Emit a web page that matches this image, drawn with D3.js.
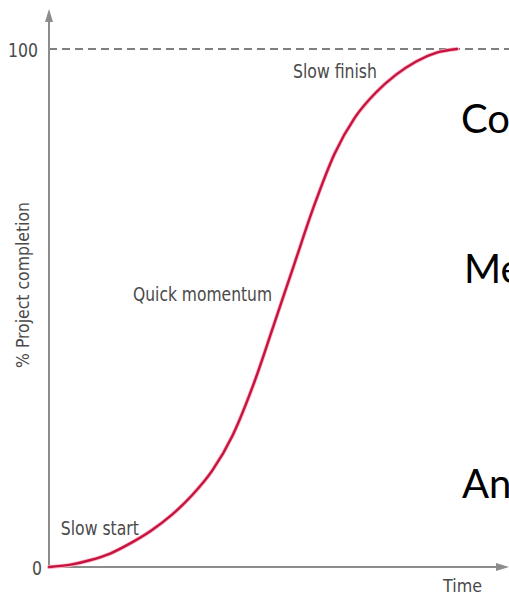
<!DOCTYPE html>
<html>
<head>
<meta charset="utf-8">
<script src="https://cdn.jsdelivr.net/npm/d3@7"></script>
<style>
  html, body { margin: 0; padding: 0; background: #fff; overflow: hidden; }
  svg { display: block; }
</style>
</head>
<body>
<svg id="chart" width="509" height="596"></svg>
<script>
// ---- data ----
const timeValues = [0, 5, 10, 15, 20, 25, 30, 35, 40, 45, 50, 55, 60, 65, 70, 75, 80, 85, 90, 95, 100];
const completionValues = [0, 0.4, 1.3, 2.6, 4.6, 7.0, 10.0, 13.8, 18.6, 25.4, 35.0, 46.5, 58.2, 69.8, 79.8, 86.8, 91.5, 95.0, 97.6, 99.3, 100];
const yTickValues = [0, 100];
const yTickLabels = ["0", "100"];
const phaseLabels = ["Slow start", "Quick momentum", "Slow finish"];
const phaseAt = [[2.9, 6.2], [20.6, 51.4], [59.8, 94.4]]; // [time, completion] anchor for each phase label
const xAxisLabel = "Time";
const yAxisLabel = "% Project completion";
const slideFragments = ["Co", "Me", "An"];

const svg = d3.select("#chart");
const W = 509, H = 596;

const x = d3.scaleLinear().domain([0, 100]).range([49, 457]);
const y = d3.scaleLinear().domain([0, 100]).range([567, 49]);

const axisColor = "#8c8c8c";
const textColor = "#4a4a4a";
const labelFont = "'Liberation Sans Narrow','DejaVu Sans Condensed','Liberation Sans',Arial,sans-serif";

// dashed 100% line
svg.append("line")
  .attr("x1", x(0)).attr("x2", W)
  .attr("y1", y(100)).attr("y2", y(100))
  .attr("stroke", "#555").attr("stroke-width", 1.5)
  .attr("stroke-dasharray", "8,5");

// axes
svg.append("line")
  .attr("x1", x(0)).attr("x2", x(0))
  .attr("y1", y(0)).attr("y2", 12)
  .attr("stroke", axisColor).attr("stroke-width", 2);
svg.append("line")
  .attr("x1", x(0)).attr("x2", 506)
  .attr("y1", y(0)).attr("y2", y(0))
  .attr("stroke", axisColor).attr("stroke-width", 2);

// arrowheads
svg.append("path")
  .attr("d", `M${x(0) - 4},22 L${x(0)},9 L${x(0) + 4},22 Z`)
  .attr("fill", axisColor);
svg.append("path")
  .attr("d", `M496,${y(0) - 4} L509,${y(0)} L496,${y(0) + 4} Z`)
  .attr("fill", axisColor);

// y tick labels
const tickGeom = { 0: { x: 42, size: 20, len: 10 }, 100: { x: 38, size: 20, len: 30 } };
yTickValues.forEach((v, i) => {
  const g = tickGeom[v];
  svg.append("text")
    .attr("x", g.x).attr("y", y(v) + 8)
    .attr("text-anchor", "end")
    .attr("font-family", labelFont)
    .attr("font-size", g.size)
    .attr("fill", textColor)
    .attr("textLength", g.len).attr("lengthAdjust", "spacingAndGlyphs")
    .text(yTickLabels[i]);
});

// x axis label
svg.append("text")
  .attr("x", 443).attr("y", 592)
  .attr("font-family", labelFont).attr("font-size", 17)
  .attr("fill", textColor)
  .attr("textLength", 39).attr("lengthAdjust", "spacingAndGlyphs")
  .text(xAxisLabel);

// y axis label
svg.append("text")
  .attr("transform", `translate(29,368) rotate(-90)`)
  .attr("font-family", labelFont).attr("font-size", 17)
  .attr("fill", textColor)
  .attr("textLength", 166).attr("lengthAdjust", "spacingAndGlyphs")
  .text(yAxisLabel);

// S-curve
const line = d3.line()
  .x((d, i) => x(timeValues[i]))
  .y(d => y(d))
  .curve(d3.curveMonotoneX);
svg.append("path")
  .datum(completionValues)
  .attr("d", line)
  .attr("fill", "none")
  .attr("stroke", "#ffb3c4")
  .attr("stroke-width", 4)
  .attr("stroke-linecap", "round");
svg.append("path")
  .datum(completionValues)
  .attr("d", line)
  .attr("fill", "none")
  .attr("stroke", "#c41540")
  .attr("stroke-width", 2.4)
  .attr("stroke-linecap", "round");

// phase labels
const phaseLen = [78, 139, 84];
phaseLabels.forEach((t, i) => {
  svg.append("text")
    .attr("x", x(phaseAt[i][0]))
    .attr("y", y(phaseAt[i][1]))
    .attr("font-family", labelFont).attr("font-size", 20)
    .attr("fill", textColor)
    .attr("textLength", phaseLen[i]).attr("lengthAdjust", "spacingAndGlyphs")
    .text(t);
});

// overlapping slide text fragments (cut by the right edge, as in the reference)
const fragPos = [[461, 133], [464, 283], [462, 498]];
slideFragments.forEach((t, i) => {
  svg.append("text")
    .attr("x", fragPos[i][0]).attr("y", fragPos[i][1])
    .attr("font-family", "Lato,'Open Sans',sans-serif")
    .attr("font-size", 40)
    .attr("fill", "#000")
    .text(t);
});
</script>
</body>
</html>
